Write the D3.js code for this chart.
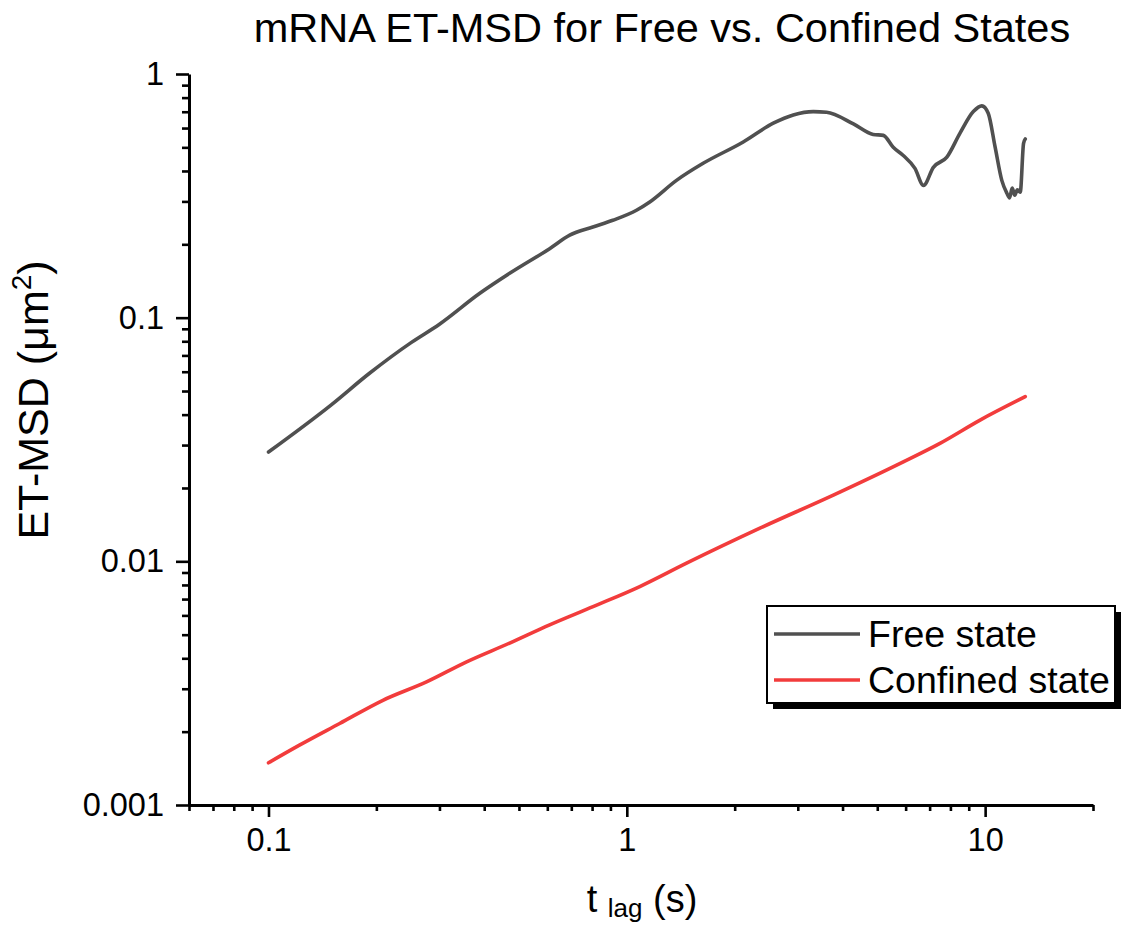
<!DOCTYPE html>
<html>
<head>
<meta charset="utf-8">
<script src="https://cdn.jsdelivr.net/npm/d3@7"></script>
<style>
  html, body { margin: 0; padding: 0; background: #fff; }
  svg { display: block; font-family: "Liberation Sans", Arial, sans-serif; }
</style>
</head>
<body>
<svg id="chart" width="1123" height="926"></svg>
<script>
// Ensemble/time-averaged MSD of mRNA trajectories (lag time in s, MSD in µm²)
const freeLag = [0.1, 0.15, 0.191, 0.25, 0.3, 0.388, 0.471, 0.609, 0.693, 0.804, 0.914, 1.064, 1.159,
  1.376, 1.633, 2.113, 2.563, 2.914, 3.314, 3.61, 4.29, 4.87, 5.2, 5.54, 5.91, 6.37, 6.73, 7.17,
  7.82, 8.51, 9.27, 9.79, 10.2, 10.66, 11.13, 11.5, 11.7, 11.9, 12.1, 12.3, 12.53, 12.8, 12.94];
const freeMSD = [0.0281, 0.044, 0.059, 0.079, 0.094, 0.1256, 0.152, 0.192, 0.218, 0.2355, 0.251, 0.276, 0.2985,
  0.366, 0.430, 0.526, 0.628, 0.679, 0.701, 0.697, 0.624, 0.565, 0.56, 0.50, 0.463, 0.41, 0.349, 0.414,
  0.456, 0.572, 0.701, 0.74, 0.69, 0.502, 0.366, 0.324, 0.31, 0.34, 0.318, 0.335, 0.327, 0.519, 0.541];

const confinedLag = [0.1, 0.122, 0.158, 0.2086, 0.276, 0.356, 0.471, 0.609, 0.805, 1.087, 1.468,
  2.352, 3.77, 5.91, 7.48, 9.68, 12.94];
const confinedMSD = [0.00149, 0.00176, 0.00216, 0.00269, 0.0032, 0.00386, 0.00462, 0.00549, 0.00652,
  0.00788, 0.00983, 0.01368, 0.0187, 0.0256, 0.0305, 0.038, 0.0474];

const seriesNames = ["Free state", "Confined state"];
const seriesColors = ["#505050", "#f23c3c"];

const xMajor = [0.1, 1, 10];
const xMajorLabels = ["0.1", "1", "10"];
const yMajor = [0.001, 0.01, 0.1, 1];
const yMajorLabels = ["0.001", "0.01", "0.1", "1"];

const svg = d3.select("#chart");
const plotLeft = 189, plotRight = 1093, plotTop = 74, plotBottom = 805;

const x = d3.scaleLog().domain([0.06, 20]).range([plotLeft, plotRight]);
const y = d3.scaleLog().domain([0.001, 1]).range([plotBottom, plotTop]);

// minor ticks: 2..9 per decade inside the domain
function minorTicks(domain) {
  const out = [];
  for (let e = -4; e <= 2; e++) {
    for (let m = 2; m <= 9; m++) {
      const v = +(m * Math.pow(10, e)).toPrecision(6);
      if (v >= domain[0] - 1e-12 && v <= domain[1] + 1e-12) out.push(v);
    }
  }
  return out;
}

function styleAxis(g) {
  g.select(".domain").attr("stroke", "#000").attr("stroke-width", 3);
  g.selectAll(".tick line").attr("stroke", "#000").attr("stroke-width", 2.6);
  g.selectAll(".tick text").attr("fill", "#000").attr("font-size", 32.5)
    .attr("font-family", "Liberation Sans, Arial, sans-serif");
}

// x axis
const gx = svg.append("g").attr("transform", `translate(0,${plotBottom})`);
gx.call(d3.axisBottom(x).tickValues(minorTicks(x.domain())).tickSize(6).tickSizeOuter(0).tickFormat(""));
styleAxis(gx);
const gxMaj = svg.append("g").attr("transform", `translate(0,${plotBottom})`)
  .call(d3.axisBottom(x).tickValues(xMajor).tickSize(12).tickPadding(11)
    .tickFormat((d, i) => xMajorLabels[i]));
gxMaj.select(".domain").remove();
styleAxis(gxMaj);

// y axis
const gy = svg.append("g").attr("transform", `translate(${plotLeft},0)`);
gy.call(d3.axisLeft(y).tickValues(minorTicks(y.domain())).tickSize(7).tickSizeOuter(0).tickFormat(""));
styleAxis(gy);
const gyMaj = svg.append("g").attr("transform", `translate(${plotLeft},0)`)
  .call(d3.axisLeft(y).tickValues(yMajor).tickSize(13).tickPadding(12)
    .tickFormat((d, i) => yMajorLabels[i]));
gyMaj.select(".domain").remove();
styleAxis(gyMaj);

// data lines
const line = d3.line().x(d => x(d[0])).y(d => y(d[1])).curve(d3.curveMonotoneX);
const series = [
  d3.zip(freeLag, freeMSD),
  d3.zip(confinedLag, confinedMSD)
];
series.forEach((pts, i) => {
  svg.append("path").datum(pts)
    .attr("d", line)
    .attr("fill", "none")
    .attr("stroke", seriesColors[i])
    .attr("stroke-width", 3.6)
    .attr("stroke-linejoin", "round")
    .attr("stroke-linecap", "round");
});

// title
svg.append("text")
  .attr("x", 662).attr("y", 42)
  .attr("text-anchor", "middle")
  .attr("font-size", 41.5)
  .attr("fill", "#000")
  .text("mRNA ET-MSD for Free vs. Confined States");

// x axis title
const xt = svg.append("text")
  .attr("x", 642).attr("y", 912)
  .attr("text-anchor", "middle")
  .attr("font-size", 38)
  .attr("fill", "#000");
xt.append("tspan").text("t ");
xt.append("tspan").attr("font-size", 26).attr("dy", 5).text("lag");
xt.append("tspan").attr("dy", -5).text(" (s)");

// y axis title
const yt = svg.append("text")
  .attr("transform", "translate(48,400) rotate(-90)")
  .attr("text-anchor", "middle")
  .attr("font-size", 43)
  .attr("fill", "#000");
yt.append("tspan").text("ET-MSD (\u03bcm");
yt.append("tspan").attr("font-size", 28).attr("dy", -17).text("2");
yt.append("tspan").attr("dy", 17).text(")");

// legend
const lg = svg.append("g");
const lx = 767, ly = 606, lw = 348, lh = 97;
lg.append("rect").attr("x", lx + 6).attr("y", ly + 6).attr("width", lw).attr("height", lh).attr("fill", "#000");
lg.append("rect").attr("x", lx).attr("y", ly).attr("width", lw).attr("height", lh)
  .attr("fill", "#fff").attr("stroke", "#000").attr("stroke-width", 2);
seriesNames.forEach((name, i) => {
  const yy = ly + 28 + i * 46;
  lg.append("line").attr("x1", lx + 7).attr("x2", lx + 93).attr("y1", yy).attr("y2", yy)
    .attr("stroke", seriesColors[i]).attr("stroke-width", 3.6);
  lg.append("text").attr("x", lx + 101).attr("y", yy + 13)
    .attr("font-size", 37.5).attr("fill", "#000").text(name);
});
</script>
</body>
</html>
